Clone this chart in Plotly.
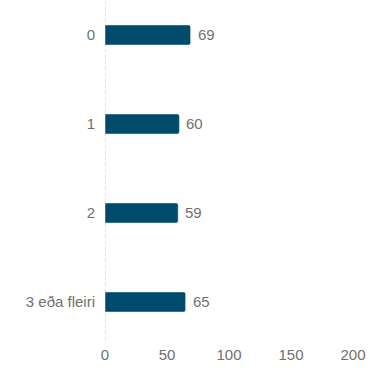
import plotly.graph_objects as go

categories = ["0", "1", "2", "3 eða fleiri"]
values = [69, 60, 59, 65]
x_ticks = [0, 50, 100, 150, 200]

fig = go.Figure()
fig.add_trace(go.Bar(
    x=values, y=categories, orientation="h",
    marker=dict(color="#004b6b"),
    width=0.225,
    hoverinfo="x+y",
))
for c, v in zip(categories, values):
    fig.add_annotation(x=v, y=c, text=str(v), showarrow=False,
                       xanchor="left", xshift=5,
                       font=dict(color="#707070", size=15, family="Liberation Sans"))
fig.add_shape(type="line", xref="x", yref="paper", x0=0, x1=0, y0=0, y1=1,
              line=dict(color="#d6d6d6", width=1.5, dash="dot"), layer="below")
fig.update_layout(
    width=381, height=368,
    margin=dict(l=105, r=28, t=0, b=28, autoexpand=False),
    plot_bgcolor="white", paper_bgcolor="white",
    barcornerradius=2,
    font=dict(family="Liberation Sans", size=15, color="#707070"),
    showlegend=False,
    xaxis=dict(range=[0, 200], tickvals=x_ticks, showgrid=False, zeroline=False,
               showline=False, ticks="", ticklabelstandoff=4, automargin=False),
    yaxis=dict(categoryorder="array", categoryarray=categories,
               range=[3.427, -0.393], showgrid=False, zeroline=False,
               showline=False, ticks="", ticklabelstandoff=9, automargin=False),
)
fig.write_html("out.html", config={"displayModeBar": False},
               post_script="document.body.style.margin='0';document.body.style.overflow='hidden';")
